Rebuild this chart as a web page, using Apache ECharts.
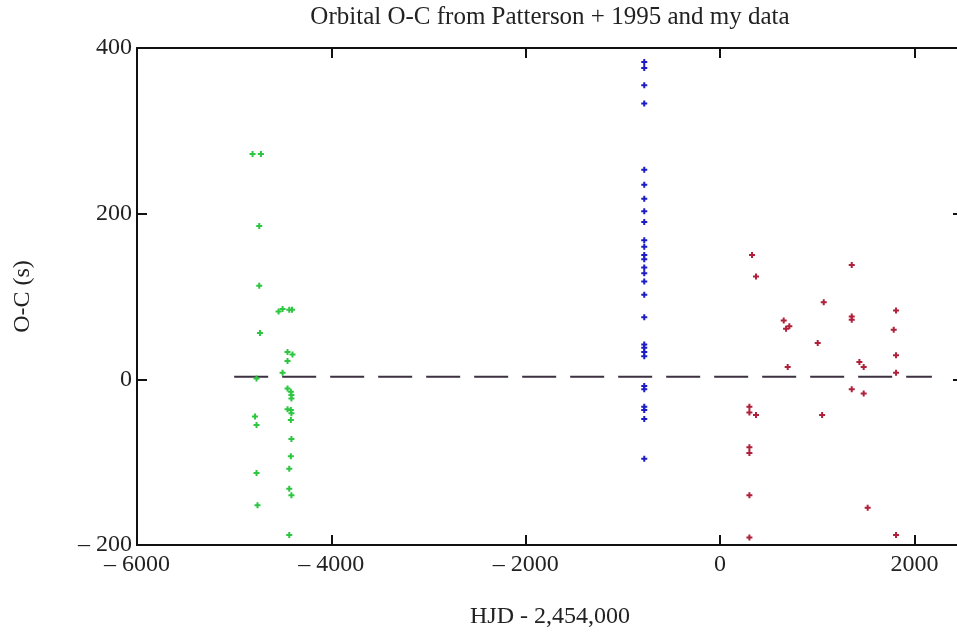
<!DOCTYPE html>
<html>
<head>
<meta charset="utf-8">
<script src="https://cdn.jsdelivr.net/npm/echarts@6/dist/echarts.min.js"></script>
<style>
  html, body { margin: 0; padding: 0; background: #fff; }
  #chart { width: 957px; height: 639px; }
</style>
</head>
<body>
<div id="chart"></div>
<script>
// Patterson et al. 1995 (green), blue epoch, my data (red): [HJD - 2454000, O-C seconds]
const greenPts = [
  [-4811, 272], [-4725, 272], [-4742, 185], [-4742, 113], [-4735, 56],
  [-4770, 1], [-4786, -45], [-4770, -55], [-4770, -113], [-4760, -152],
  [-4543, 82], [-4502, 85], [-4433, 84], [-4405, 84],
  [-4451, 33], [-4400, 30], [-4451, 22], [-4502, 8],
  [-4451, -11], [-4417, -15], [-4411, -19], [-4411, -23],
  [-4451, -36], [-4417, -37], [-4411, -41], [-4417, -49],
  [-4411, -72], [-4417, -93], [-4433, -108], [-4433, -132],
  [-4411, -140], [-4433, -188]
];
const bluePts = [
  [-780, 383], [-780, 376], [-780, 355], [-780, 333], [-780, 253],
  [-780, 235], [-780, 218], [-780, 203], [-780, 190], [-780, 168],
  [-780, 160], [-780, 150], [-780, 145], [-780, 135], [-780, 128],
  [-780, 118], [-780, 102], [-780, 75], [-780, 42], [-780, 38],
  [-780, 33], [-780, 28], [-780, -8], [-780, -12], [-780, -33],
  [-780, -37], [-780, -48], [-780, -96]
];
const redPts = [
  [329, 150], [370, 124], [1355, 138], [1067, 93], [655, 71],
  [679, 61], [713, 64], [1355, 76], [1355, 72], [1811, 83],
  [1787, 60], [1005, 44], [1811, 29], [1434, 21], [1478, 15],
  [696, 15], [1811, 8], [1355, -12], [1478, -17], [302, -33],
  [302, -40], [370, -43], [1050, -43], [302, -82], [302, -89],
  [302, -140], [1519, -155], [302, -191], [1811, -188]
];
const fitLine = [[-5000, 3], [2180, 3]];

const xMin = -6000, xMax = 2500, xStep = 2000;
const yMin = -200, yMax = 400, yStep = 200;

const serif = "Liberation Serif";
const plus = "path://M2,0H4V2H6V4H4V6H2V4H0V2H2Z";
const minusFmt = (v) => (v < 0 ? "\u2013 " + Math.abs(v) : String(v));

const chart = echarts.init(document.getElementById("chart"));

// Mathcad-style box: every side drawn, ticks pointing inward
const frameLine = { show: true, onZero: false, lineStyle: { color: "#111", width: 2 } };
const frameTick = { show: true, inside: true, length: 10, lineStyle: { color: "#111", width: 2 } };

const option = {
  animation: false,
  backgroundColor: "#fff",
  title: {
    text: "Orbital O-C from Patterson + 1995 and my data",
    left: 545,
    top: 0,
    textAlign: "center",
    textStyle: { fontFamily: serif, fontSize: 25, fontWeight: "normal", color: "#222" },
  },
  // the right side of the box runs just past the picture edge
  grid: { left: 137, top: 48, width: 826, bottom: 94, outerBoundsMode: "none", containLabel: false },
  xAxis: [
    {
      type: "value",
      position: "bottom",
      min: xMin,
      max: xMax,
      interval: xStep,
      name: "HJD - 2,454,000",
      nameLocation: "middle",
      nameGap: 60,
      nameTextStyle: { fontFamily: serif, fontSize: 24, color: "#222" },
      axisLine: frameLine,
      axisTick: frameTick,
      splitLine: { show: false },
      axisLabel: {
        fontFamily: serif,
        fontSize: 24,
        color: "#222",
        margin: 8,
        showMaxLabel: false,
        formatter: minusFmt,
      },
    },
    {
      type: "value",
      position: "top",
      min: xMin,
      max: xMax,
      interval: xStep,
      axisLine: frameLine,
      axisTick: frameTick,
      splitLine: { show: false },
      axisLabel: { show: false },
    },
  ],
  yAxis: [
    {
      type: "value",
      position: "left",
      min: yMin,
      max: yMax,
      interval: yStep,
      name: "O-C (s)",
      nameLocation: "middle",
      nameGap: 102,
      nameTextStyle: { fontFamily: serif, fontSize: 24, color: "#222" },
      axisLine: frameLine,
      axisTick: frameTick,
      splitLine: { show: false },
      axisLabel: {
        fontFamily: serif,
        fontSize: 24,
        color: "#222",
        margin: 5,
        formatter: minusFmt,
      },
    },
    {
      type: "value",
      position: "right",
      min: yMin,
      max: yMax,
      interval: yStep,
      axisLine: frameLine,
      axisTick: frameTick,
      splitLine: { show: false },
      axisLabel: { show: false },
    },
  ],
  series: [
    {
      name: "fit",
      type: "line",
      data: fitLine,
      symbol: "none",
      lineStyle: { color: "#3d3040", width: 2, type: [34, 14] },
      z: 1,
    },
    {
      name: "Patterson",
      type: "scatter",
      data: greenPts,
      symbol: plus,
      symbolSize: 6,
      itemStyle: { color: "#2cc640", opacity: 1 },
      z: 3,
    },
    {
      name: "blue",
      type: "scatter",
      data: bluePts,
      symbol: plus,
      symbolSize: 6,
      itemStyle: { color: "#1c1cc4", opacity: 1 },
      z: 3,
    },
    {
      name: "mine",
      type: "scatter",
      data: redPts,
      symbol: plus,
      symbolSize: 6,
      itemStyle: { color: "#b0203a", opacity: 1 },
      z: 3,
    },
  ],
};

chart.setOption(option);
</script>
</body>
</html>
